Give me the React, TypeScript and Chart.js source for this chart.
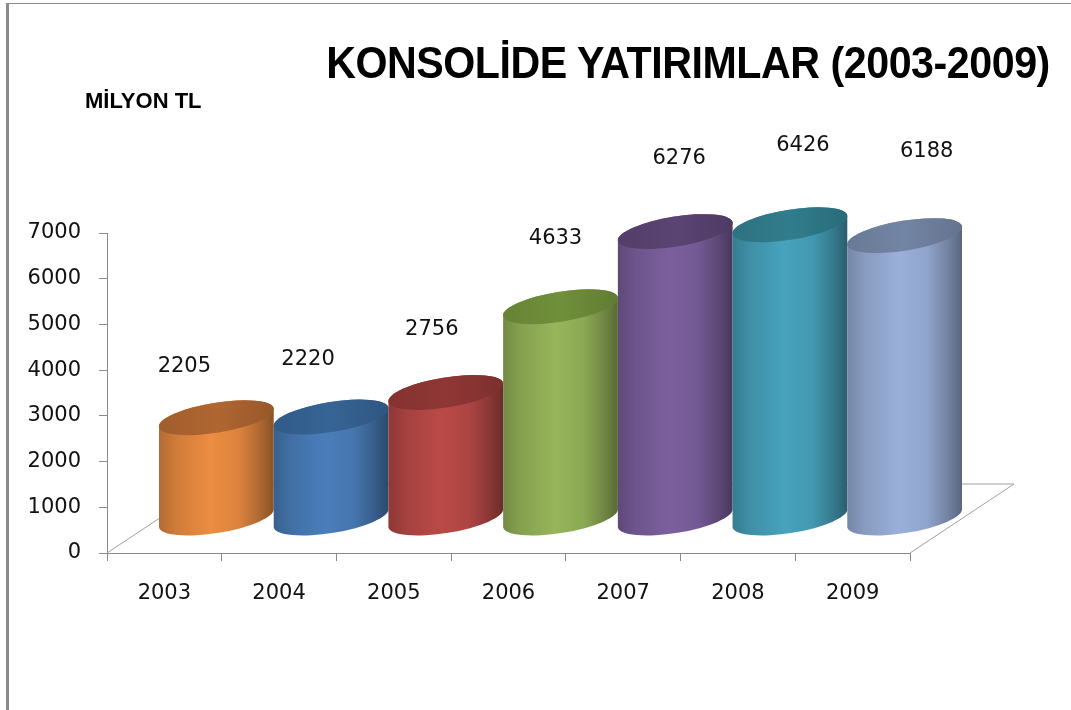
import React, { useEffect, useRef } from 'react';
import { Chart, registerables } from 'chart.js';

Chart.register(...registerables);

// ---- data ----
const years = ['2003', '2004', '2005', '2006', '2007', '2008', '2009'];
const investments = [2205, 2220, 2756, 4633, 6276, 6426, 6188];
const yTickValues = [0, 1000, 2000, 3000, 4000, 5000, 6000, 7000];

// ---- styles ----
const bodyColors = ['#EC8D42', '#4A7EBB', '#BA4A47', '#97B65A', '#7C609E', '#47A3BD', '#9AB0DA'];
const topColors = ['#A9622F', '#34608F', '#8A3533', '#6C8A39', '#57416F', '#2F7888', '#6F809E'];

const DEPTH_X = 52;
const DEPTH_Y = -34.5;
const TILT = -0.16;
const RY = 15;
const AXIS_COLOR = '#8a8a8a';
const FONT = '"DejaVu Sans", "Open Sans", sans-serif';

function shade(hex: string, f: number): string {
  const n = parseInt(hex.slice(1), 16);
  const r = Math.min(255, Math.round(((n >> 16) & 255) * f));
  const g = Math.min(255, Math.round(((n >> 8) & 255) * f));
  const b = Math.min(255, Math.round((n & 255) * f));
  return `rgb(${r},${g},${b})`;
}

const floorPlugin = {
  id: 'floor3d',
  beforeDatasetsDraw(chart: any) {
    const { ctx, chartArea } = chart;
    const { left, right, bottom } = chartArea;
    ctx.save();
    ctx.strokeStyle = '#a0a0a0';
    ctx.lineWidth = 1;
    ctx.beginPath();
    ctx.moveTo(left, bottom);
    ctx.lineTo(left + 2 * DEPTH_X, bottom + 2 * DEPTH_Y);
    ctx.lineTo(right + 2 * DEPTH_X, bottom + 2 * DEPTH_Y);
    ctx.lineTo(right, bottom);
    ctx.stroke();
    ctx.restore();
  },
};

const cylinderPlugin = {
  id: 'cylinders',
  afterDatasetsDraw(chart: any) {
    const { ctx } = chart;
    const meta = chart.getDatasetMeta(0);
    const yScale = chart.scales.y;
    const cosT = Math.cos(TILT);
    const sinT = Math.sin(TILT);
    meta.data.forEach((el: any, i: number) => {
      const { x, y, base, width } = el.getProps(['x', 'y', 'base', 'width'], true);
      const half = width / 2;
      const rx = half / cosT;
      const cx = x + DEPTH_X;
      const yTop = y + DEPTH_Y;
      const yBot = base + DEPTH_Y;
      const col = bodyColors[i % bodyColors.length];

      ctx.save();
      // body
      const grad = ctx.createLinearGradient(cx - half, 0, cx + half, 0);
      grad.addColorStop(0, shade(col, 0.76));
      grad.addColorStop(0.15, shade(col, 0.88));
      grad.addColorStop(0.45, shade(col, 1.0));
      grad.addColorStop(0.7, shade(col, 0.93));
      grad.addColorStop(0.88, shade(col, 0.74));
      grad.addColorStop(1, shade(col, 0.58));
      ctx.beginPath();
      ctx.ellipse(cx, yBot, rx, RY, TILT, 0, Math.PI, false);
      ctx.lineTo(cx - rx * cosT, yTop - rx * sinT);
      ctx.ellipse(cx, yTop, rx, RY, TILT, Math.PI, 2 * Math.PI, false);
      ctx.closePath();
      ctx.fillStyle = grad;
      ctx.fill();

      // top face
      const tcol = topColors[i % topColors.length];
      const tgrad = ctx.createLinearGradient(cx - half, 0, cx + half, 0);
      tgrad.addColorStop(0, shade(tcol, 0.95));
      tgrad.addColorStop(0.5, shade(tcol, 1.04));
      tgrad.addColorStop(1, shade(tcol, 0.9));
      ctx.beginPath();
      ctx.ellipse(cx, yTop, rx, RY, TILT, 0, 2 * Math.PI, false);
      ctx.fillStyle = tgrad;
      ctx.fill();
      ctx.restore();

      // value label (perspective-shifted above the cylinder)
      const v = investments[i];
      ctx.save();
      ctx.font = `21px ${FONT}`;
      ctx.fillStyle = '#111111';
      ctx.textAlign = 'center';
      ctx.textBaseline = 'middle';
      ctx.fillText(String(v), x + 20 + 9 * i, yScale.getPixelForValue(v) - (86 + 5.5 * i));
      ctx.restore();
    });
  },
};

export default function App() {
  const canvasRef = useRef<HTMLCanvasElement | null>(null);

  useEffect(() => {
    if (!canvasRef.current) return;
    const chart = new Chart(canvasRef.current, {
      type: 'bar',
      data: {
        labels: years,
        datasets: [
          {
            label: 'MİLYON TL',
            data: investments,
            backgroundColor: 'rgba(0,0,0,0)',
            borderWidth: 0,
            barPercentage: 1,
            categoryPercentage: 1,
          },
        ],
      },
      options: {
        responsive: false,
        animation: false,
        devicePixelRatio: 1,
        layout: { padding: { top: 233, right: 161, left: 0, bottom: 0 } },
        plugins: {
          legend: { display: false },
          tooltip: { enabled: false },
          title: { display: false },
        },
        scales: {
          x: {
            type: 'category',
            offset: true,
            grid: {
              display: true,
              offset: true,
              drawOnChartArea: false,
              drawTicks: true,
              tickLength: 8,
              color: AXIS_COLOR,
            },
            border: { display: true, color: AXIS_COLOR, width: 1 },
            ticks: {
              font: { family: FONT, size: 21 },
              color: '#111111',
              padding: 20,
              maxRotation: 0,
            },
            afterFit(scale: any) {
              scale.height = 157;
            },
          },
          y: {
            min: 0,
            max: 7000,
            afterBuildTicks(scale: any) {
              scale.ticks = yTickValues.map((v) => ({ value: v }));
            },
            grid: {
              display: true,
              drawOnChartArea: false,
              drawTicks: true,
              tickLength: 8,
              color: AXIS_COLOR,
            },
            border: { display: true, color: AXIS_COLOR, width: 1 },
            ticks: {
              font: { family: FONT, size: 21 },
              color: '#111111',
              padding: 18,
              callback: (value: any) => String(value),
            },
            afterFit(scale: any) {
              scale.width = 107;
            },
          },
        },
      },
      plugins: [floorPlugin, cylinderPlugin],
    });
    return () => chart.destroy();
  }, []);

  return (
    <div
      style={{
        position: 'absolute',
        left: 0,
        top: 0,
        width: 1071,
        height: 710,
        background: '#ffffff',
        overflow: 'hidden',
      }}
    >
      <div
        style={{
          position: 'absolute',
          left: 6,
          top: 3,
          right: 0,
          bottom: 0,
          borderTop: '1px solid #8a8a8a',
          borderLeft: '3px solid #8a8a8a',
        }}
      />
      <canvas
        ref={canvasRef}
        width={1071}
        height={710}
        style={{ position: 'absolute', left: 0, top: 0, width: 1071, height: 710 }}
      />
      <div
        style={{
          position: 'absolute',
          left: 688,
          top: 40,
          transform: 'translateX(-50%) scaleX(0.915)',
          whiteSpace: 'nowrap',
          fontFamily: '"Liberation Sans", "Noto Sans", sans-serif',
          fontWeight: 'bold',
          fontSize: 45,
          lineHeight: 1,
          letterSpacing: -0.5,
          color: '#000',
        }}
      >
        KONSOLİDE YATIRIMLAR (2003-2009)
      </div>
      <div
        style={{
          position: 'absolute',
          left: 85,
          top: 90,
          whiteSpace: 'nowrap',
          fontFamily: '"Liberation Sans", sans-serif',
          fontWeight: 'bold',
          fontSize: 22,
          lineHeight: 1,
          color: '#000',
        }}
      >
        MİLYON TL
      </div>
    </div>
  );
}
